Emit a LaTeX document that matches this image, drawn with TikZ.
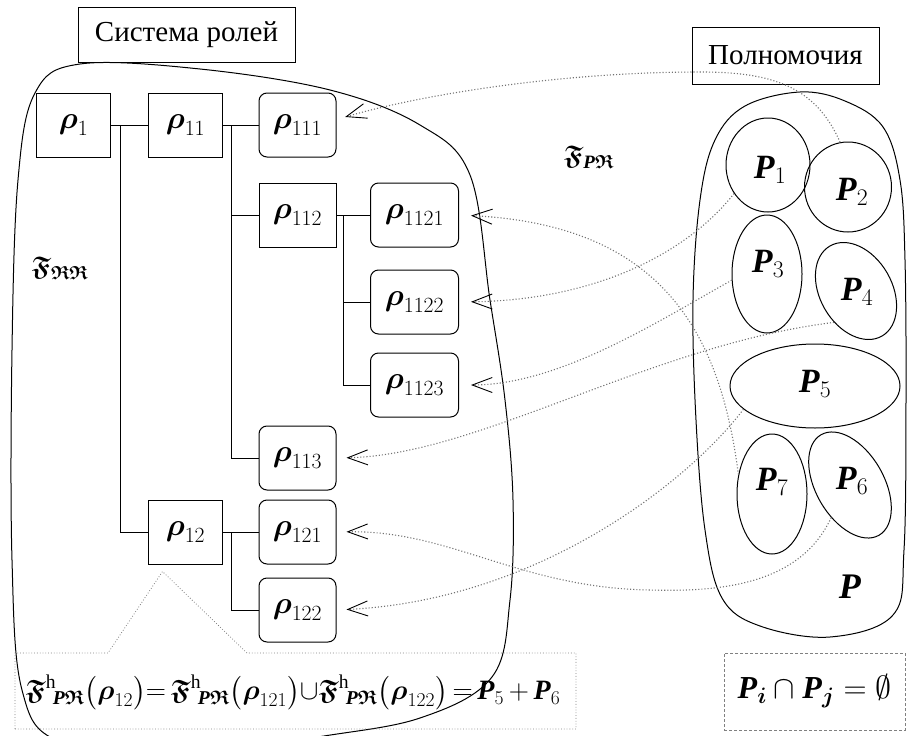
\RequirePackage{fix-cm}
\documentclass[tikz,border=0pt]{standalone}
\usepackage{amsmath}
\usepackage{amssymb}
\usepackage{fontspec}
\setmainfont{Liberation Serif}
\usepackage{tikz}
\usetikzlibrary{shapes.geometric,arrows.meta}

\newcommand{\rl}[1]{$\boldsymbol{\rho}_{#1}$}
\newcommand{\Fr}{\boldsymbol{\mathfrak{F}}}
\newcommand{\Rf}{\boldsymbol{\mathfrak{R}}}
\newcommand{\Pb}{\textbf{\textit{P}}}
\newcommand{\Ps}[1]{$\Pb_{#1}$}

\begin{document}
\begin{tikzpicture}[x=1pt,y=-1pt,node distance=112pt,line width=1pt,
    every node/.style={font=\fontsize{31}{34}\selectfont},
    box/.style={draw,minimum width=74pt,minimum height=64pt,inner sep=0pt},
    rbox/.style={box,rounded corners=8pt,minimum width=77pt},
    wbox/.style={rbox,minimum width=88pt},
    pset/.style={draw,ellipse,inner sep=0pt},
    plab/.style={font=\fontsize{34}{38}\selectfont},
    title/.style={draw,inner sep=0pt,font=\fontsize{29}{32}\selectfont},
    conn/.style={black!55,dotted,line width=1.1pt,-{Straight Barb[length=20pt,width=15pt,color=black,line width=0.9pt]}}]
      \useasboundingbox (0,0) rectangle (908,736);
      %% the two sets
      \begin{scope}
        \clip (0,0) rectangle (908,736);
        \draw plot[smooth cycle,tension=0.6] coordinates {(35,93) (80,64) (200,69) (330,90) (420,125) (470,175) (490,300) (505,400) (513,500) (510,600) (492,677) (420,718) (312,738) (180,760) (60,742) (22,690) (12,560) (12,350) (18,180)};
      \end{scope}
      \draw plot[smooth cycle,tension=0.6] coordinates {(800,92) (845,101) (883,127) (900,180) (905,260) (906,400) (904,550) (893,615) (830,637) (760,626) (722,598) (705,530) (696,420) (693,300) (700,200) (715,140) (745,106)};
      \node[title,minimum width=217pt,minimum height=55pt] (sys) at (186.5,34.5) {Система ролей};
      \node[title,minimum width=187pt,minimum height=57pt] (pol) at (785.5,55.5) {Полномочия};
      %% roles
      \node[box] (r1) at (73.5,125) {\rl{1}};
      \node[box,right of=r1] (r11) {\rl{11}};
      \node[rbox,right of=r11] (r111) {\rl{111}};
      \node[box,below of=r111,yshift=22pt,minimum width=77pt] (r112) {\rl{112}};
      \node[wbox,right of=r112,xshift=5pt] (r1121) {\rl{1121}};
      \node[wbox,below of=r1121,yshift=25pt] (r1122) {\rl{1122}};
      \node[wbox,below of=r1122,yshift=29pt] (r1123) {\rl{1123}};
      \node[rbox,below of=r1123,xshift=-117pt,yshift=39pt] (r113) {\rl{113}};
      \node[box,below of=r113,xshift=-112pt,yshift=38pt] (r12) {\rl{12}};
      \node[rbox,right of=r12] (r121) {\rl{121}};
      \node[rbox,below of=r121,yshift=34pt] (r122) {\rl{122}};
      %% tree lines
      \coordinate (j1) at ([xshift=9pt]r1.east);
      \coordinate (j11) at ([xshift=8pt]r11.east);
      \coordinate (j112) at ([xshift=7pt]r112.east);
      \coordinate (j12) at ([xshift=8pt]r12.east);
      \draw (r1) -- (r11);
      \draw (j1) |- (r12);
      \draw (r11) -- (r111);
      \draw (j11) |- (r112);
      \draw (j11) |- (r113);
      \draw (r112) -- (r1121);
      \draw (j112) |- (r1122);
      \draw (j112) |- (r1123);
      \draw (r12) -- (r121);
      \draw (j12) |- (r122);
      %% mapping names
      \node[font=\fontsize{27}{30}\selectfont] (frr) at (60,268) {$\Fr_{\Rf\Rf}$};
      \node[font=\fontsize{27}{30}\selectfont] (fpr) at (589,157) {$\Fr_{\Pb\Rf}$};
      %% permissions
      \node[pset,minimum width=84pt,minimum height=94pt] (p1) at (768,165) {};
      \node[pset,minimum width=87pt,minimum height=90pt] (p2) at (848,187) {};
      \node[pset,minimum width=70pt,minimum height=118pt] (p3) at (767,274) {};
      \node[pset,minimum width=104pt,minimum height=72pt,rotate=-60] (p4) at (856,291) {};
      \node[pset,minimum width=170pt,minimum height=84pt] (p5) at (815,386) {};
      \node[pset,minimum width=116pt,minimum height=68pt,rotate=-60] (p6) at (850,485) {};
      \node[pset,minimum width=70pt,minimum height=120pt] (p7) at (772,494) {};
      \node[plab] (l1) at (770,170) {\Ps{1}};
      \node[plab] (l2) at (852,192) {\Ps{2}};
      \node[plab] (l3) at (768,264) {\Ps{3}};
      \node[plab] (l4) at (857,292) {\Ps{4}};
      \node[plab] (l5) at (815,384) {\Ps{5}};
      \node[plab] (l6) at (852,481) {\Ps{6}};
      \node[plab] (l7) at (772,482) {\Ps{7}};
      \node[font=\fontsize{36}{40}\selectfont] (pall) at (850,587) {\Pb};
      %% dotted arrows
      \draw[conn,shorten >=9pt] (p2.100) .. controls (815,85) and (770,72) .. (700,72) .. controls (560,72) and (420,95) .. (r111.8);
      \draw[conn,shorten >=12pt] (p7.150) .. controls (720,330) and (660,225) .. (r1121.east);
      \draw[conn,shorten >=12pt] (p1.220) .. controls (690,250) and (600,300) .. (r1122.east);
      \draw[conn,shorten >=12pt] (p3.190) .. controls (660,320) and (560,385) .. (r1123.east);
      \draw[conn,shorten >=10pt] (p4.295) .. controls (650,345) and (480,455) .. (r113.east);
      \draw[conn,shorten >=10pt] (p6.300) .. controls (800,585) and (720,592) .. (650,590) .. controls (520,588) and (450,530) .. (r121.east);
      \draw[conn,shorten >=10pt] (p5.198) .. controls (690,480) and (540,600) .. (r122.east);
      %% formula boxes
      \node[font=\fontsize{28}{32}\selectfont,inner sep=0pt] (fml) at (293,692) {$\Fr^{\mathrm{h}}{}_{\!\Pb\Rf}\bigl(\boldsymbol{\rho}_{12}\bigr){=}\,\Fr^{\mathrm{h}}{}_{\!\Pb\Rf}\bigl(\boldsymbol{\rho}_{121}\bigr){\cup}\Fr^{\mathrm{h}}{}_{\!\Pb\Rf}\bigl(\boldsymbol{\rho}_{122}\bigr)\,{=}\,\Pb_5\,{+}\,\Pb_6$};
      \draw[black!50,dotted,line width=0.8pt] (15,729) -- (15,653) -- (108,653) -- ([xshift=-23pt,yshift=-7pt]r12.south) -- (247,653) -- (576,653) -- (576,729) -- cycle;
      \node[draw=black!50,densely dashed,line width=0.8pt,minimum width=181pt,minimum height=77pt,font=\fontsize{32}{36}\selectfont] (disj) at (814.5,691.5) {$\Pb_{\boldsymbol{i}}\cap\Pb_{\boldsymbol{j}}=\emptyset$};
\end{tikzpicture}
\end{document}
